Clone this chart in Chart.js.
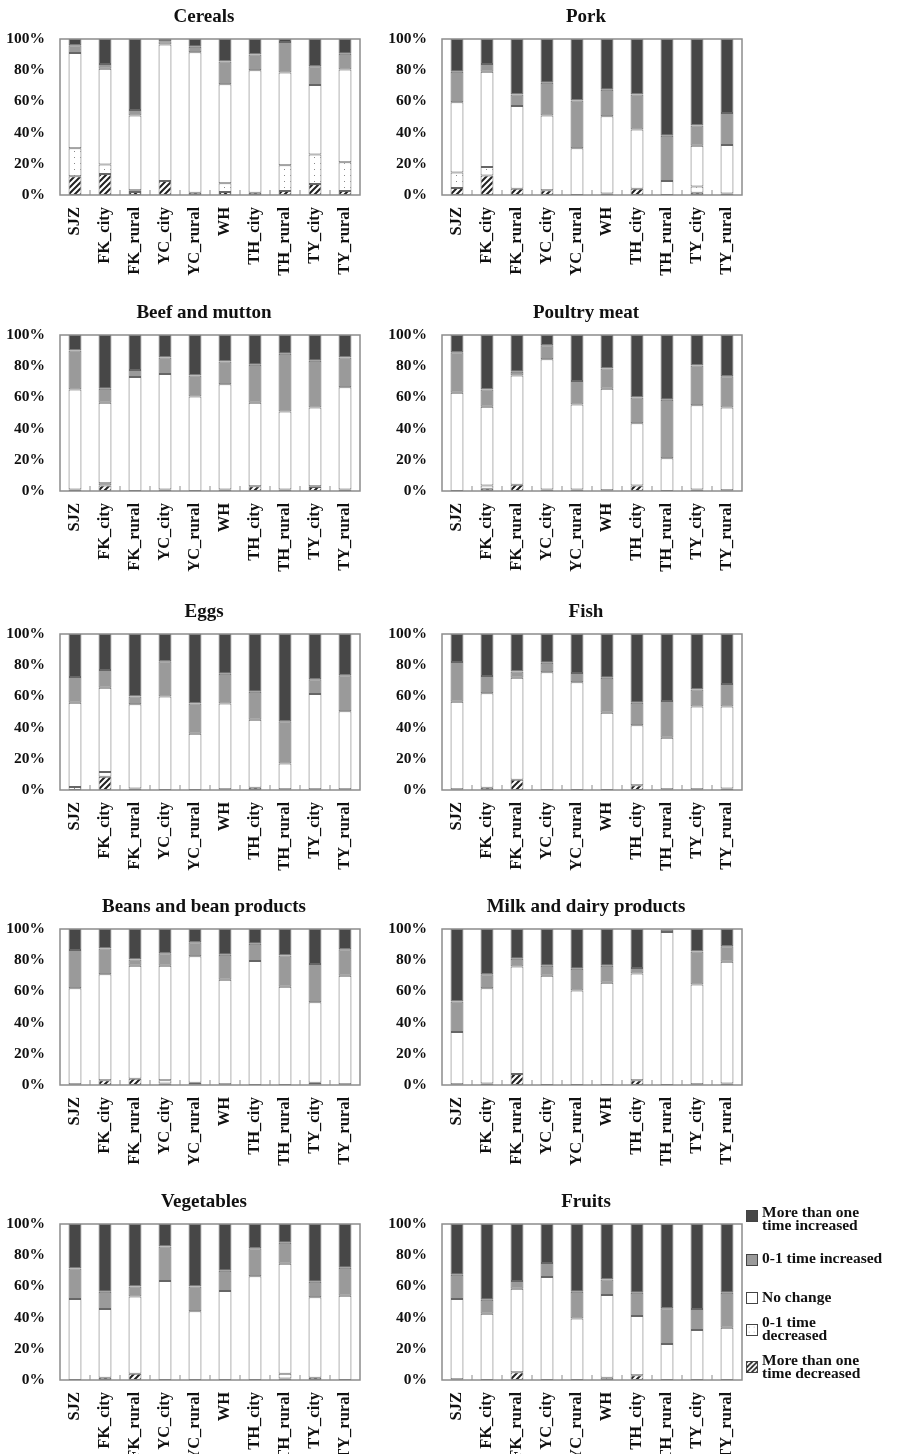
<!DOCTYPE html>
<html>
<head>
<meta charset="utf-8">
<script src="https://cdn.jsdelivr.net/npm/chart.js@4.4.1/dist/chart.umd.min.js"></script>
<style>
  body { margin: 0; background: #fff; }
  #page { position: relative; width: 901px; height: 1454px; overflow: hidden; }
  .panel { position: absolute; }
  #legend { position: absolute; left: 746px; top: 1198px; font-family: "Liberation Serif", "Times New Roman", serif;
            font-weight: bold; font-size: 15.5px; line-height: 13px; color: #111; }
  .item { position: absolute; left: 0; white-space: nowrap; }
  .sw { position: absolute; left: 0; width: 12px; height: 12px; border: 1px solid #444; box-sizing: border-box; }
  .txt { position: absolute; left: 16px; }
</style>
</head>
<body>
<div id="page"></div>
<script>
const categories = ["SJZ", "FK_city", "FK_rural", "YC_city", "YC_rural", "WH", "TH_city", "TH_rural", "TY_city", "TY_rural"];
const seriesNames = ["More than one time decreased", "0-1 time decreased", "No change", "0-1 time increased", "More than one time increased"];
const yTicks = [0, 20, 40, 60, 80, 100];

// each panel: [more than one decreased, 0-1 decreased, no change, 0-1 increased, more than one increased]
const cereals = [
  [12, 13.5, 2, 9, 1.5, 2, 1.5, 2.5, 7, 2.5],
  [18, 6, 1, 0, 0, 5.5, 0, 16.5, 19, 18.5],
  [61, 61.5, 48, 87.5, 90, 63.5, 78.5, 59.5, 44.5, 59.5],
  [5, 3, 3.5, 2, 3.5, 14.5, 10, 19.5, 12, 10],
  [4, 16, 45.5, 1.5, 5, 14.5, 10, 2, 17.5, 9.5]
];
const pork = [
  [4.5, 12.5, 4, 3, 0, 1, 4, 0, 1.5, 1],
  [10, 5.5, 0, 0, 0, 0, 0, 0, 4, 0],
  [45, 61, 53, 48, 30, 49.5, 38, 9, 26, 31],
  [19.5, 5, 7.5, 21, 30.5, 17, 22.5, 29, 13, 20.5],
  [21, 16, 35.5, 28, 39.5, 32.5, 35.5, 62, 55.5, 47.5]
];
const beefMutton = [
  [1, 3.5, 0, 1, 0, 1, 3, 1, 2.5, 1],
  [0, 1.5, 0, 0, 0, 0, 0, 0, 0.5, 0],
  [64, 51.5, 73, 74, 60.5, 67.5, 53.5, 50, 50.5, 65.5],
  [25, 9, 4.5, 10.5, 13.5, 14.5, 24.5, 37, 30, 19],
  [10, 34.5, 22.5, 14.5, 26, 17, 19, 12, 16.5, 14.5]
];
const poultry = [
  [0, 1.5, 4, 1, 1, 0.5, 3.5, 0, 1, 0.5],
  [0, 2, 0, 0, 0, 0, 0, 0, 0, 0],
  [63, 50.5, 70, 83.5, 54.5, 65, 40, 21, 54, 53],
  [26, 11, 2.5, 9, 15, 13, 16.5, 37.5, 25.5, 20],
  [11, 35, 23.5, 6.5, 29.5, 21.5, 40, 41.5, 19.5, 26.5]
];
const eggs = [
  [0, 8.5, 1, 0, 0, 0.5, 1.5, 0.5, 0.5, 0.5],
  [2, 3, 0, 0, 0, 0, 0, 0, 0, 0],
  [54, 54, 54, 60, 36, 55, 43.5, 16.5, 61, 50],
  [16.5, 11.5, 5, 22.5, 19.5, 19, 18, 27, 9.5, 23],
  [27.5, 23, 40, 17.5, 44.5, 25.5, 37, 56, 29, 26.5]
];
const fish = [
  [0.5, 1.5, 6.5, 0, 0, 0, 3, 0.5, 0.5, 1],
  [0, 0, 0, 0, 0, 0, 0, 0, 0, 0],
  [56, 60.5, 65.5, 75.5, 69, 49.5, 38.5, 33, 53, 52.5],
  [25.5, 11, 4, 6, 6, 22.5, 14.5, 23.5, 11, 14.5],
  [18, 27, 24, 18.5, 25, 28, 44, 43, 35.5, 32]
];
const beans = [
  [0.5, 3, 4, 1, 0.5, 0.5, 0, 0, 0.5, 0.5],
  [0, 0, 0, 2, 1, 0, 0, 0, 1, 0],
  [61.5, 68, 72.5, 73.5, 81, 67, 79.5, 63, 51.5, 69.5],
  [24.5, 16.5, 4, 8, 9, 16, 11, 20, 24.5, 17],
  [13.5, 12.5, 19.5, 15.5, 8.5, 16.5, 9.5, 17, 22.5, 13]
];
const milk = [
  [0.5, 1, 7, 0, 0, 0, 3, 0, 0.5, 1],
  [0, 0, 0, 0, 0, 0, 0, 0, 0, 0],
  [33.5, 61, 69, 70, 60.5, 65.5, 68.5, 98, 64, 78],
  [19.5, 9, 5, 6.5, 14, 11, 3.5, 1.5, 21, 10],
  [46.5, 29, 19, 23.5, 25.5, 23.5, 25, 0.5, 14.5, 11]
];
const vegetables = [
  [0, 1.5, 4, 0, 0, 0, 0, 1, 1.5, 0],
  [0, 0, 0, 0, 0, 0, 0, 3, 0, 0],
  [52, 44, 49.5, 63.5, 44, 57, 66.5, 70.5, 51.5, 54],
  [19.5, 11, 6.5, 22, 16, 13, 18, 13.5, 10, 18],
  [28.5, 43.5, 40, 14.5, 40, 30, 15.5, 12, 37, 28]
];
const fruits = [
  [0.5, 0, 5, 0, 0, 0, 3, 0, 0, 0],
  [0, 0, 0, 0, 0, 1.5, 0, 0, 0, 0],
  [51.5, 42.5, 53.5, 66, 39.5, 53, 38, 23, 32, 33.5],
  [15.5, 9, 5, 9, 17, 10, 15, 23, 13.5, 22.5],
  [32.5, 48.5, 36.5, 25, 43.5, 35.5, 44, 54, 54.5, 44]
];

const panelTitles = ["Cereals", "Pork", "Beef and mutton", "Poultry meat", "Eggs", "Fish",
  "Beans and bean products", "Milk and dairy products", "Vegetables", "Fruits"];
const panelData = [cereals, pork, beefMutton, poultry, eggs, fish, beans, milk, vegetables, fruits];

const FONT = '"Liberation Serif", "Times New Roman", serif';

// fill patterns for the two "decreased" groups
function makeHatch() {
  const c = document.createElement("canvas");
  c.width = 6; c.height = 6;
  const g = c.getContext("2d");
  g.fillStyle = "#fff"; g.fillRect(0, 0, 6, 6);
  g.strokeStyle = "#222"; g.lineWidth = 2;
  g.beginPath();
  g.moveTo(-1, 7); g.lineTo(7, -1);
  g.moveTo(-4, 4); g.lineTo(4, -4);
  g.moveTo(2, 10); g.lineTo(10, 2);
  g.stroke();
  return g.createPattern(c, "repeat");
}
function makeDots() {
  const c = document.createElement("canvas");
  c.width = 6; c.height = 6;
  const g = c.getContext("2d");
  g.fillStyle = "#fff"; g.fillRect(0, 0, 6, 6);
  g.fillStyle = "#888"; g.fillRect(2, 2, 1, 1);
  return g.createPattern(c, "repeat");
}
const fills = [makeHatch(), makeDots(), "#ffffff", "#9a9a9a", "#474747"];

// box around the plot, short inner ticks between categories, and the panel title
const frame = {
  id: "frame",
  afterDraw(chart, args, opts) {
    const a = chart.chartArea, ctx = chart.ctx, x = chart.scales.x;
    ctx.save();
    ctx.strokeStyle = "#8c8c8c";
    ctx.lineWidth = 1.5;
    ctx.strokeRect(a.left, a.top, a.right - a.left, a.bottom - a.top);
    ctx.lineWidth = 1;
    ctx.beginPath();
    for (let i = 0; i < categories.length - 1; i++) {
      const px = (x.getPixelForValue(i) + x.getPixelForValue(i + 1)) / 2;
      ctx.moveTo(px, a.bottom);
      ctx.lineTo(px, a.bottom - 5);
    }
    ctx.stroke();
    ctx.fillStyle = "#111";
    ctx.font = "bold 19px " + FONT;
    ctx.textAlign = "center";
    ctx.textBaseline = "middle";
    ctx.fillText(opts.text, (a.left + a.right) / 2 - 6, 18);
    ctx.restore();
  }
};

const rowTops = [-1, 295, 594, 889, 1184];
const colLefts = [0, 382];
const page = document.getElementById("page");

panelData.forEach((rows, p) => {
  const canvas = document.createElement("canvas");
  canvas.className = "panel";
  canvas.style.left = colLefts[p % 2] + "px";
  canvas.style.top = rowTops[Math.floor(p / 2)] + "px";
  canvas.style.width = "370px";
  canvas.style.height = "287px";
  canvas.width = 370;
  canvas.height = 287;
  page.appendChild(canvas);

  new Chart(canvas, {
    type: "bar",
    data: {
      labels: categories,
      datasets: rows.map((vals, s) => ({
        label: seriesNames[s],
        data: vals,
        backgroundColor: fills[s],
        borderColor: "#666",
        borderWidth: 1,
        borderSkipped: false,
        barPercentage: 0.43,
        categoryPercentage: 1
      }))
    },
    options: {
      responsive: false,
      animation: false,
      layout: { padding: { left: 0, right: 10, top: 40, bottom: 5 } },
      plugins: {
        legend: { display: false },
        tooltip: { enabled: false },
        title: { display: false },
        frame: { text: panelTitles[p] }
      },
      scales: {
        x: {
          stacked: true,
          grid: { display: false },
          border: { display: false },
          afterFit: (s) => { s.height = 86; },
          ticks: {
            minRotation: 90, maxRotation: 90, autoSkip: false, padding: 4,
            color: "#111", font: { family: FONT, size: 16.5, weight: "bold" }
          }
        },
        y: {
          stacked: true,
          min: 0, max: 100,
          grid: { display: false },
          border: { display: false },
          afterFit: (s) => { s.width = 60; },
          afterBuildTicks: (s) => { s.ticks = yTicks.map(v => ({ value: v })); },
          ticks: {
            padding: 7,
            color: "#111",
            font: { family: FONT, size: 15.5, weight: "bold" },
            callback: (v) => v + "%"
          }
        }
      }
    },
    plugins: [frame]
  });
});

// legend, top to bottom as in the figure
const legendItems = [
  { s: 4, top: 7, lines: ["More than one", "time increased"], sw: 12 },
  { s: 3, top: 53, lines: ["0-1 time increased"], sw: 56 },
  { s: 2, top: 92, lines: ["No change"], sw: 94 },
  { s: 1, top: 117, lines: ["0-1 time", "decreased"], sw: 126 },
  { s: 0, top: 155, lines: ["More than one", "time decreased"], sw: 163 }
];
const legend = document.createElement("div");
legend.id = "legend";
legendItems.forEach(it => {
  const sw = document.createElement("canvas");
  sw.className = "sw";
  sw.width = 12; sw.height = 12;
  sw.style.top = it.sw + "px";
  const g = sw.getContext("2d");
  g.fillStyle = fills[it.s];
  g.fillRect(0, 0, 12, 12);
  legend.appendChild(sw);
  const t = document.createElement("div");
  t.className = "item txt";
  t.style.top = it.top + "px";
  t.innerHTML = it.lines.join("<br>");
  legend.appendChild(t);
});
page.appendChild(legend);
</script>
</body>
</html>
